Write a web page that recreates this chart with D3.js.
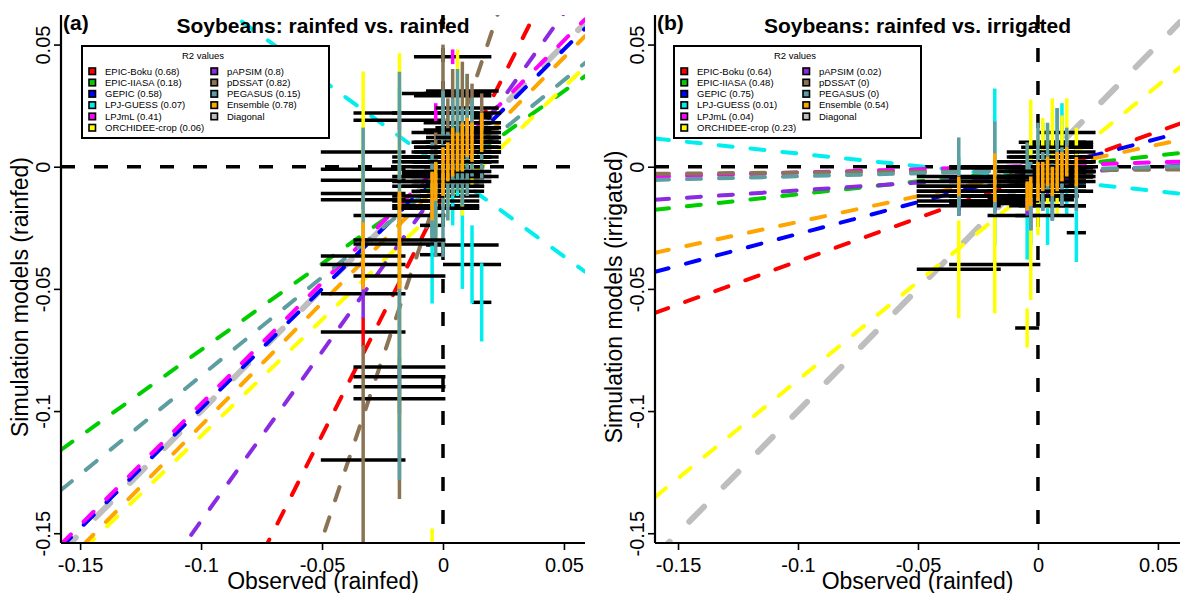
<!DOCTYPE html>
<html>
<head>
<meta charset="utf-8">
<script src="https://cdn.jsdelivr.net/npm/d3@7"></script>
<style>
  body { margin: 0; background: #fff; }
  text { font-family: "Liberation Sans", Arial, Helvetica, sans-serif; }
</style>
</head>
<body>
<svg id="chart" width="1182" height="593"></svg>
<script>
// ---- series ----
const models = ["EPIC-Boku", "EPIC-IIASA", "GEPIC", "LPJ-GUESS", "LPJmL", "ORCHIDEE-crop",
                "pAPSIM", "pDSSAT", "PEGASUS", "Ensemble"];
const modelColors = ["#ff0000", "#00cd00", "#0000ff", "#00eeee", "#ff00ff", "#ffff00",
                     "#8a2be2", "#8b7355", "#5f9ea0", "#ffa500"];
const diagonalColor = "#bebebe";

// observed yield anomalies (rainfed) and their uncertainty
const obsX   = [-0.033, -0.018, -0.0045, -0.003, 0.000, 0.002, 0.004, 0.006, 0.008, 0.010, 0.012, 0.016];
const obsErr = [0.0175, 0.019, 0.005, 0.018, 0.017, 0.015, 0.016, 0.014, 0.015, 0.013, 0.012, 0.004];

// simulated anomalies, rainfed runs (one row per model, same order as models)
const simRainfed = [
  [-0.0676, -0.095, -0.024, -0.016, -0.006, -0.010, 0.002, -0.004, 0.006, 0.012, 0.008, 0.018],
  [-0.0055, -0.082, -0.012, 0.004, -0.008, 0.006, 0.010, -0.002, 0.012, 0.002, 0.016, 0.008],
  [-0.0135, -0.020, -0.012, -0.004, 0.002, -0.006, 0.008, 0.004, 0.010, 0.014, 0.006, 0.016],
  [0.006, 0.022, -0.036, -0.012, 0.004, 0.010, -0.006, 0.002, -0.032, 0.016, -0.040, -0.0555],
  [-0.040, 0.019, -0.008, 0.022, 0.004, 0.000, 0.045, 0.006, 0.014, 0.010, 0.018, 0.012],
  [-0.001, -0.0316, -0.170, -0.014, 0.000, -0.008, 0.004, 0.030, -0.004, 0.016, 0.006, 0.010],
  [-0.052, -0.086, -0.014, -0.008, -0.004, 0.004, 0.002, 0.010, 0.008, 0.016, 0.014, 0.020],
  [-0.120, -0.090, -0.010, 0.002, 0.030, 0.014, 0.029, 0.018, 0.031, 0.024, 0.022, 0.021],
  [-0.011, -0.0447, -0.010, -0.017, -0.003, -0.004, 0.008, 0.015, 0.004, 0.006, 0.012, 0.0063],
  [-0.0365, -0.030, -0.012, -0.006, -0.002, 0.002, 0.006, 0.006, 0.008, 0.012, 0.010, 0.014]
];
const errRainfed = [
  [0.006, 0.006, 0.004, 0.004, 0.004, 0.004, 0.004, 0.004, 0.004, 0.004, 0.004, 0.004],
  [0.004, 0.004, 0.004, 0.004, 0.004, 0.004, 0.004, 0.004, 0.004, 0.004, 0.004, 0.004],
  [0.004, 0.004, 0.004, 0.004, 0.004, 0.004, 0.004, 0.004, 0.004, 0.004, 0.004, 0.004],
  [0.010, 0.010, 0.020, 0.016, 0.012, 0.014, 0.018, 0.014, 0.018, 0.022, 0.016, 0.016],
  [0.004, 0.004, 0.004, 0.004, 0.004, 0.004, 0.003, 0.004, 0.004, 0.004, 0.004, 0.004],
  [0.040, 0.078, 0.022, 0.016, 0.018, 0.014, 0.016, 0.018, 0.016, 0.016, 0.014, 0.012],
  [0.010, 0.004, 0.004, 0.004, 0.004, 0.004, 0.004, 0.004, 0.004, 0.004, 0.004, 0.004],
  [0.047, 0.046, 0.012, 0.012, 0.020, 0.014, 0.011, 0.014, 0.012, 0.014, 0.012, 0.009],
  [0.027, 0.0836, 0.020, 0.020, 0.034, 0.018, 0.020, 0.025, 0.020, 0.018, 0.016, 0.011],
  [0.0137, 0.020, 0.010, 0.008, 0.010, 0.008, 0.010, 0.008, 0.010, 0.008, 0.008, 0.008]
];

// simulated anomalies, irrigated runs
const simIrrigated = [
  [-0.012, -0.015, -0.014, -0.008, -0.010, -0.004, -0.006, -0.002, -0.004, 0.000, -0.002, 0.002],
  [-0.014, -0.012, -0.010, -0.006, -0.008, -0.004, -0.002, -0.006, 0.000, -0.002, 0.002, 0.000],
  [-0.016, -0.014, -0.012, -0.010, -0.006, -0.008, -0.002, -0.004, 0.000, 0.002, -0.002, 0.004],
  [-0.006, 0.000, -0.020, -0.012, -0.004, 0.006, -0.016, -0.008, 0.004, 0.010, -0.006, -0.027],
  [-0.008, -0.010, -0.006, -0.004, -0.002, -0.008, 0.000, -0.004, -0.002, 0.002, -0.004, 0.000],
  [-0.042, -0.040, -0.066, -0.0135, -0.008, 0.004, 0.000, 0.010, -0.004, 0.009, 0.014, 0.002],
  [-0.010, -0.012, -0.014, -0.020, -0.008, -0.012, -0.006, -0.016, -0.004, -0.010, -0.002, -0.006],
  [-0.010, -0.006, -0.002, -0.008, -0.004, 0.000, -0.006, -0.002, 0.002, -0.004, 0.000, -0.002],
  [-0.004, -0.0005, -0.002, -0.012, 0.002, -0.006, 0.004, -0.010, 0.008, -0.004, 0.006, -0.008],
  [-0.008, -0.0045, -0.012, -0.010, -0.006, -0.004, -0.002, -0.006, -0.002, 0.000, 0.002, -0.002]
];
const errIrrigated = [
  [0.004, 0.004, 0.004, 0.004, 0.004, 0.004, 0.004, 0.004, 0.004, 0.004, 0.004, 0.004],
  [0.004, 0.004, 0.004, 0.004, 0.004, 0.004, 0.004, 0.004, 0.004, 0.004, 0.004, 0.004],
  [0.004, 0.004, 0.004, 0.004, 0.004, 0.004, 0.004, 0.004, 0.004, 0.004, 0.004, 0.004],
  [0.010, 0.032, 0.018, 0.020, 0.014, 0.012, 0.016, 0.014, 0.020, 0.016, 0.014, 0.012],
  [0.004, 0.004, 0.004, 0.004, 0.004, 0.004, 0.004, 0.004, 0.004, 0.004, 0.004, 0.004],
  [0.020, 0.020, 0.008, 0.041, 0.020, 0.016, 0.017, 0.018, 0.016, 0.012, 0.014, 0.014],
  [0.006, 0.006, 0.006, 0.006, 0.006, 0.006, 0.006, 0.006, 0.006, 0.006, 0.006, 0.006],
  [0.004, 0.004, 0.004, 0.004, 0.004, 0.004, 0.004, 0.004, 0.004, 0.004, 0.004, 0.004],
  [0.016, 0.019, 0.012, 0.014, 0.016, 0.012, 0.014, 0.012, 0.016, 0.012, 0.010, 0.010],
  [0.004, 0.010, 0.006, 0.006, 0.008, 0.006, 0.006, 0.006, 0.008, 0.006, 0.006, 0.006]
];

// linear fits (simulated ~ observed) per model
const slopeRainfed       = [1.96, 0.706, 0.98, -0.722, 0.992, 0.952, 1.386, 2.96, 0.807, 1.004];
const interceptRainfed   = [-0.0119, -0.0044, -0.001, -0.0006, 0.0021, -0.015, -0.0064, -0.0045, -0.0049, -0.0055];
const slopeIrrigated     = [0.354, 0.106, 0.26, -0.103, 0.028, 0.804, 0.064, 0.008, 0.025, 0.211];
const interceptIrrigated = [-0.0033, -0.0007, -0.0015, -0.0049, 0.0004, -0.0069, -0.0033, -0.0016, -0.0014, -0.0015];

// R2 of each fit, as listed in the legends
const r2Rainfed   = ["0.68", "0.18", "0.58", "0.07", "0.41", "0.06", "0.8", "0.82", "0.15", "0.78"];
const r2Irrigated = ["0.64", "0.48", "0.75", "0.01", "0.04", "0.23", "0.02", "0", "0", "0.54"];

const tickValues = [-0.15, -0.1, -0.05, 0, 0.05];
const tickLabels = ["-0.15", "-0.1", "-0.05", "0", "0.05"];

// ---- drawing ----
const svg = d3.select("#chart");

function drawPanel(cfg) {
  const { left, right, top, bottom, xDom, yDom, sims, errs, slopes, intercepts, r2,
          tag, title, yTitle, legendX, id } = cfg;
  const x = d3.scaleLinear().domain(xDom).range([left, right]);
  const y = d3.scaleLinear().domain(yDom).range([bottom, top]);
  const g = svg.append("g");

  g.append("clipPath").attr("id", id).append("rect")
    .attr("x", left).attr("y", top).attr("width", right - left).attr("height", bottom - top);
  const plot = g.append("g").attr("clip-path", `url(#${id})`);

  // zero reference lines
  const dashBlack = "14,19";
  plot.append("line").attr("x1", left).attr("x2", right).attr("y1", y(0)).attr("y2", y(0))
    .attr("stroke", "#000").attr("stroke-width", 3.5).attr("stroke-dasharray", dashBlack);
  plot.append("line").attr("x1", x(0)).attr("x2", x(0)).attr("y1", top).attr("y2", bottom)
    .attr("stroke", "#000").attr("stroke-width", 3.5).attr("stroke-dasharray", dashBlack);

  // 1:1 diagonal
  plot.append("line")
    .attr("x1", x(xDom[0])).attr("y1", y(xDom[0]))
    .attr("x2", x(xDom[1])).attr("y2", y(xDom[1]))
    .attr("stroke", diagonalColor).attr("stroke-width", 6)
    .attr("stroke-linecap", "round").attr("stroke-dasharray", "21,28");

  // regression lines
  models.forEach((m, k) => {
    const f = v => intercepts[k] + slopes[k] * v;
    plot.append("line")
      .attr("x1", x(xDom[0])).attr("y1", y(f(xDom[0])))
      .attr("x2", x(xDom[1])).attr("y2", y(f(xDom[1])))
      .attr("stroke", modelColors[k]).attr("stroke-width", 4)
      .attr("stroke-linecap", "round").attr("stroke-dasharray", "14,18");
  });

  // error bars: observed uncertainty horizontally, simulated vertically
  models.forEach((m, k) => {
    const pts = obsX.map((ox, i) => ({ ox, oe: obsErr[i], sy: sims[k][i], se: errs[k][i] }));
    const pg = plot.append("g");
    pg.selectAll("line.h").data(pts).join("line").attr("class", "h")
      .attr("x1", d => x(d.ox - d.oe)).attr("x2", d => x(d.ox + d.oe))
      .attr("y1", d => y(d.sy)).attr("y2", d => y(d.sy))
      .attr("stroke", "#000").attr("stroke-width", 3.5);
    pg.selectAll("line.v").data(pts).join("line").attr("class", "v")
      .attr("x1", d => x(d.ox)).attr("x2", d => x(d.ox))
      .attr("y1", d => y(d.sy - d.se)).attr("y2", d => y(d.sy + d.se))
      .attr("stroke", modelColors[k]).attr("stroke-width", 3.5);
  });

  // axes (left and bottom only)
  const xAxis = d3.axisBottom(x).tickValues(tickValues).tickFormat((d, i) => tickLabels[i])
    .tickSizeInner(7).tickSizeOuter(0).tickPadding(8);
  const yAxis = d3.axisLeft(y).tickValues(tickValues).tickFormat((d, i) => tickLabels[i])
    .tickSizeInner(7).tickSizeOuter(0).tickPadding(6);

  const gx = g.append("g").attr("transform", `translate(0,${bottom})`).call(xAxis);
  gx.select(".domain").attr("stroke-width", 2.2).attr("d", `M${left},0H${right}`);
  gx.selectAll(".tick line").attr("stroke-width", 1.6);
  gx.selectAll(".tick text").attr("font-size", 20).attr("fill", "#000")
    .attr("font-family", "Liberation Sans, Arial, sans-serif");

  const gy = g.append("g").attr("transform", `translate(${left},0)`).call(yAxis);
  gy.select(".domain").attr("stroke-width", 2.2).attr("d", `M0,${top}V${bottom}`);
  gy.selectAll(".tick line").attr("stroke-width", 1.6);
  gy.selectAll(".tick text")
    .attr("font-size", 20).attr("fill", "#000")
    .attr("font-family", "Liberation Sans, Arial, sans-serif")
    .attr("text-anchor", "middle").attr("dy", 0)
    .attr("x", 0).attr("y", 0)
    .attr("transform", "translate(-11,0) rotate(-90)");

  // axis titles
  g.append("text").attr("x", (left + right) / 2).attr("y", 589)
    .attr("text-anchor", "middle").attr("font-size", 23).text("Observed (rainfed)");
  g.append("text")
    .attr("transform", `translate(${left - 33},${(top + bottom) / 2 + 18}) rotate(-90)`)
    .attr("text-anchor", "middle").attr("font-size", 23).text(yTitle);

  // panel tag and title
  g.append("text").attr("x", left + 2).attr("y", 30).attr("font-size", 21)
    .attr("font-weight", "bold").text(tag);
  g.append("text").attr("x", (left + right) / 2).attr("y", 33).attr("text-anchor", "middle")
    .attr("font-size", 21).attr("font-weight", "bold").text(title);

  // legend
  const lg = g.append("g");
  const lw = 247, lh = 92, ly = 46;
  lg.append("rect").attr("x", legendX).attr("y", ly).attr("width", lw).attr("height", lh)
    .attr("fill", "#fff").attr("stroke", "#000").attr("stroke-width", 2);
  lg.append("text").attr("x", legendX + 121).attr("y", ly + 12.5).attr("text-anchor", "middle")
    .attr("font-size", 9.5).text("R2 values");
  const entries = models.map((m, k) => ({ label: `${m} (${r2[k]})`, color: modelColors[k] }))
    .concat([{ label: "Diagonal", color: diagonalColor }]);
  entries.forEach((e, i) => {
    const col = i < 6 ? 0 : 1;
    const row = i < 6 ? i : i - 6;
    const ex = legendX + (col === 0 ? 10 : 132);
    const ey = ly + 25 + row * 11.3;
    lg.append("rect").attr("x", ex - 3).attr("y", ey - 3).attr("width", 6.5).attr("height", 6.5)
      .attr("fill", e.color).attr("stroke", "#000").attr("stroke-width", 1.6);
    lg.append("text").attr("x", ex + 13).attr("y", ey + 3.5).attr("font-size", 9.5).text(e.label);
  });
}

drawPanel({
  id: "clipA", left: 61, right: 585, top: 15, bottom: 543,
  xDom: [-0.1579, 0.0587], yDom: [-0.154, 0.0621],
  sims: simRainfed, errs: errRainfed, slopes: slopeRainfed, intercepts: interceptRainfed,
  r2: r2Rainfed, tag: "(a)", title: "Soybeans: rainfed vs. rainfed",
  yTitle: "Simulation models (rainfed)", legendX: 82
});

drawPanel({
  id: "clipB", left: 655, right: 1180, top: 15, bottom: 543,
  xDom: [-0.1596, 0.0592], yDom: [-0.154, 0.0621],
  sims: simIrrigated, errs: errIrrigated, slopes: slopeIrrigated, intercepts: interceptIrrigated,
  r2: r2Irrigated, tag: "(b)", title: "Soybeans: rainfed vs. irrigated",
  yTitle: "Simulation models (irrigated)", legendX: 674
});
</script>
</body>
</html>
